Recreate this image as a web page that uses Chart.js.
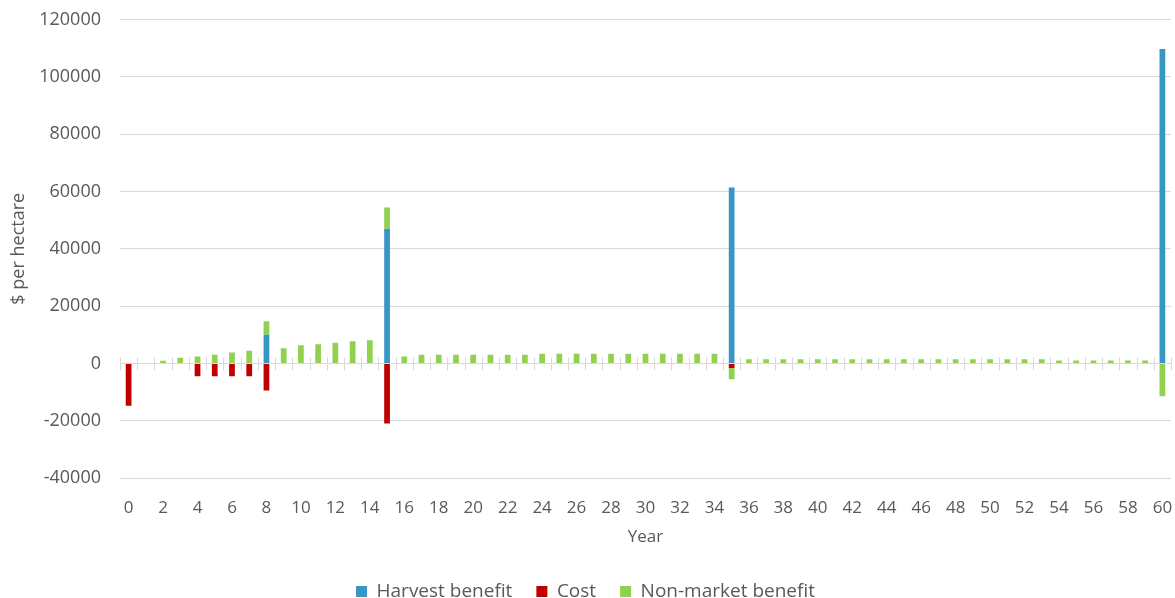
<!DOCTYPE html>
<html>
<head>
<meta charset="utf-8">
<title>Costs and benefits per hectare by year</title>
<script src="https://cdn.jsdelivr.net/npm/chart.js@4"></script>
<style>
  html, body { margin: 0; padding: 0; background: #ffffff; }
  #wrap { width: 1175px; height: 598px; position: relative; }
</style>
</head>
<body>
<div id="wrap"><canvas id="chart"></canvas></div>
<script>
// Year of the rotation (0 to 60)
const years = [
  0, 1, 2, 3, 4, 5, 6, 7, 8, 9,
  10, 11, 12, 13, 14, 15, 16, 17, 18, 19,
  20, 21, 22, 23, 24, 25, 26, 27, 28, 29,
  30, 31, 32, 33, 34, 35, 36, 37, 38, 39,
  40, 41, 42, 43, 44, 45, 46, 47, 48, 49,
  50, 51, 52, 53, 54, 55, 56, 57, 58, 59,
  60
];

// $ per hectare, harvest revenue (thinning at 8 and 15, fellings at 35 and 60)
const harvestBenefit = [
  0, 0, 0, 0, 0, 0, 0, 0, 10000, 0,
  0, 0, 0, 0, 0, 47000, 0, 0, 0, 0,
  0, 0, 0, 0, 0, 0, 0, 0, 0, 0,
  0, 0, 0, 0, 0, 61400, 0, 0, 0, 0,
  0, 0, 0, 0, 0, 0, 0, 0, 0, 0,
  0, 0, 0, 0, 0, 0, 0, 0, 0, 0,
  109700
];

// $ per hectare, establishment and management costs
const cost = [
  -14800, 0, 0, 0, -4500, -4500, -4500, -4500, -9500, 0,
  0, 0, 0, 0, 0, -21000, 0, 0, 0, 0,
  0, 0, 0, 0, 0, 0, 0, 0, 0, 0,
  0, 0, 0, 0, 0, -1600, 0, 0, 0, 0,
  0, 0, 0, 0, 0, 0, 0, 0, 0, 0,
  0, 0, 0, 0, 0, 0, 0, 0, 0, 0,
  0
];

// $ per hectare, non-market benefit
const nonMarketBenefit = [
  0, 0, 900, 2000, 2400, 3000, 3800, 4400, 4700, 5300,
  6300, 6700, 7200, 7700, 8100, 7400, 2400, 3000, 3000, 3000,
  3000, 3000, 3000, 3000, 3400, 3400, 3400, 3400, 3400, 3400,
  3400, 3400, 3400, 3400, 3400, -3900, 1400, 1400, 1400, 1400,
  1400, 1400, 1400, 1400, 1400, 1400, 1400, 1400, 1400, 1400,
  1400, 1400, 1400, 1400, 1000, 1000, 1000, 1000, 1000, 1000,
  -11500
];

// Value axis ticks
const yTicks = [-40000, -20000, 0, 20000, 40000, 60000, 80000, 100000, 120000];

const FONT = "'Open Sans', 'DejaVu Sans', sans-serif";
const TEXT = '#595959';
const GRID = '#d9d9d9';

// Cross tick marks on the zero line, between categories
const zeroLineTicks = {
  id: 'zeroLineTicks',
  afterDatasetsDraw(chart) {
    const x = chart.scales.x, y = chart.scales.y, ctx = chart.ctx;
    const y0 = y.getPixelForValue(0);
    const half = (x.getPixelForValue(1) - x.getPixelForValue(0)) / 2;
    ctx.save();
    ctx.strokeStyle = GRID;
    ctx.lineWidth = 1;
    ctx.beginPath();
    for (let i = 0; i <= years.length; i++) {
      const px = Math.round(x.getPixelForValue(Math.min(i, years.length - 1)) + (i < years.length ? -half : half)) + 0.5;
      ctx.moveTo(px, y0 - 6);
      ctx.lineTo(px, y0 + 7);
    }
    ctx.stroke();
    ctx.restore();
  }
};

new Chart(document.getElementById('chart'), {
  type: 'bar',
  data: {
    labels: years.map(String),
    datasets: [
      { label: 'Harvest benefit', data: harvestBenefit, backgroundColor: '#3796c4' },
      { label: 'Cost', data: cost, backgroundColor: '#c00000' },
      { label: 'Non-market benefit', data: nonMarketBenefit, backgroundColor: '#92d050' }
    ]
  },
  options: {
    responsive: true,
    maintainAspectRatio: false,
    animation: false,
    layout: { padding: { left: 0, right: 4, top: 19, bottom: -13 } },
    datasets: { bar: { barPercentage: 1, categoryPercentage: 0.333, borderWidth: 0 } },
    scales: {
      x: {
        stacked: true,
        grid: { display: false, drawTicks: false },
        border: { display: false },
        ticks: {
          autoSkip: false,
          maxRotation: 0,
          minRotation: 0,
          padding: 2,
          color: TEXT,
          font: { family: FONT, size: 17, lineHeight: '56px' },
          callback: (v, i) => (i % 2 === 0 ? years[i] : '')
        },
        title: { display: true, text: 'Year', color: TEXT, font: { family: FONT, size: 17 }, padding: 11 },
        afterFit: s => { s.height = 80; }
      },
      y: {
        stacked: true,
        min: -40000,
        max: 120000,
        grid: { color: GRID, lineWidth: 1, drawTicks: false },
        border: { display: false },
        afterBuildTicks: s => { s.ticks = yTicks.map(v => ({ value: v })); },
        ticks: {
          padding: 19,
          color: TEXT,
          font: { family: FONT, size: 18, lineHeight: '1px' },
          callback: v => String(v)
        },
        title: { display: true, text: '$ per hectare', color: TEXT, font: { family: FONT, size: 18 }, padding: { top: 8, bottom: 0 } },
        afterFit: s => { s.width = 120; }
      }
    },
    plugins: {
      legend: {
        position: 'bottom',
        labels: {
          boxWidth: 11,
          boxHeight: 11,
          padding: 24,
          color: TEXT,
          font: { family: FONT, size: 19 }
        }
      },
      tooltip: { enabled: false }
    }
  },
  plugins: [zeroLineTicks]
});
</script>
</body>
</html>
